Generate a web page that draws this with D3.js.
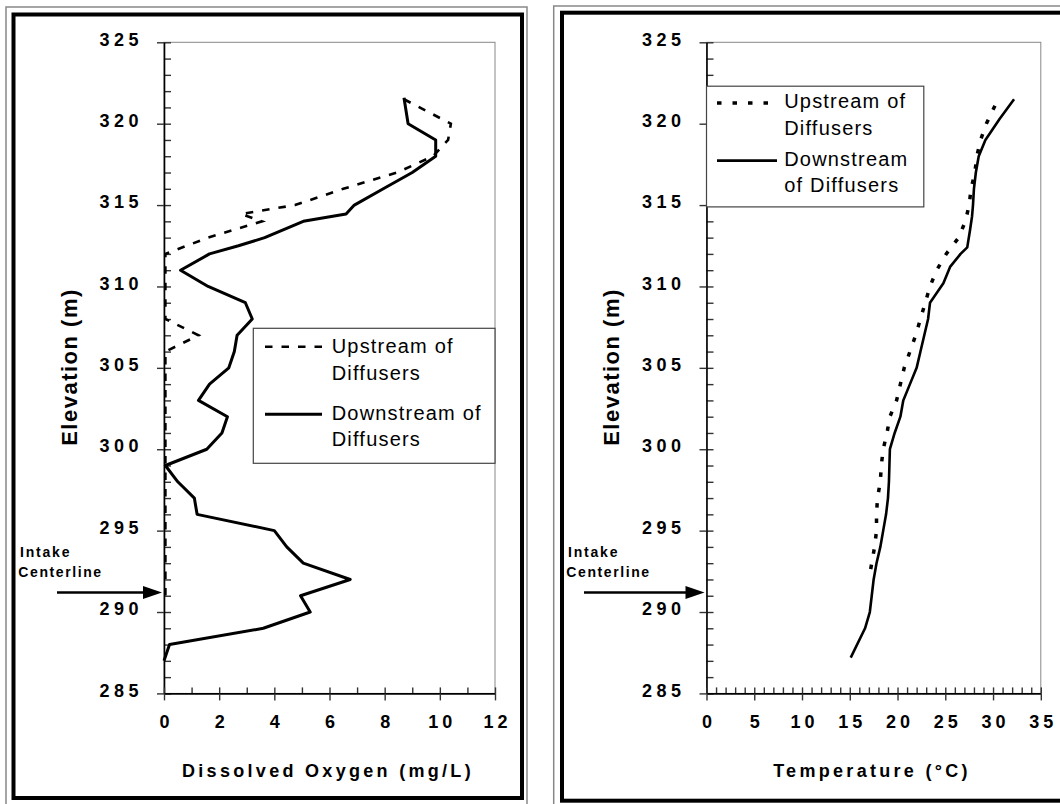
<!DOCTYPE html>
<html>
<head>
<meta charset="utf-8">
<script src="https://cdn.jsdelivr.net/npm/d3@7"></script>
<style>
  body { margin: 0; background: #fff; }
  svg { display: block; font-family: "Liberation Sans", Arial, sans-serif; }
</style>
</head>
<body>
<div id="chart"></div>
<script>
// Elevation ticks shared by both panels
const elevTicks = [285, 290, 295, 300, 305, 310, 315, 320, 325];
const doTicks = [0, 2, 4, 6, 8, 10, 12];
const tempTicks = [0, 5, 10, 15, 20, 25, 30, 35];

// Dissolved oxygen profiles (mg/L)
const doUpElev = [321.5, 320, 319, 318, 317, 316, 315, 314.45, 314, 313, 312, 311, 310, 309, 308, 307, 306,
                  305, 304, 303, 302, 301, 300, 299, 298, 297, 296, 295, 294, 293, 292, 291];
const doUpVal  = [8.7, 10.4, 10.3, 9.75, 8.45, 6.5, 4.75, 2.8, 3.55, 1.6, 0.05, 0.05, 0.05, 0.05, 0.05, 1.25, 0.05,
                  0.05, 0.05, 0.05, 0.05, 0.05, 0.05, 0.05, 0.05, 0.05, 0.05, 0.05, 0.05, 0.05, 0.05, 0.05];
const doDownElev = [321.6, 320, 319, 318, 317, 316, 315, 314.45, 314, 313, 312.5, 312, 311, 310, 309, 308, 307, 306,
                    305, 304, 303, 302, 301, 300, 299, 298, 297, 296, 295, 294, 293, 292, 291, 290, 289, 288, 287];
const doDownVal  = [8.7, 8.85, 9.85, 9.85, 9.0, 7.95, 6.9, 6.6, 5.05, 3.65, 2.7, 1.65, 0.6, 1.6, 2.95, 3.2, 2.65, 2.55,
                    2.35, 1.65, 1.25, 2.3, 2.1, 1.55, 0.05, 0.5, 1.1, 1.2, 4.0, 4.45, 5.05, 6.75, 4.95, 5.3, 3.6, 0.2, 0.0];

// Temperature profiles (deg C)
const tUpElev = [321.1, 320, 319, 318, 317, 316, 315, 314, 313, 312, 311, 310, 309, 308, 307, 306, 305, 304,
                 303, 302, 301, 300, 299, 298, 297, 296, 295, 294, 293, 292];
const tUpVal  = [30.2, 29.3, 28.7, 28.3, 28.1, 27.7, 27.5, 27.1, 26.4, 25.1, 24.1, 23.4, 22.9, 22.4, 21.9, 21.3, 20.7, 20.3,
                 19.9, 19.2, 18.9, 18.5, 18.3, 18.2, 17.9, 17.8, 17.8, 17.6, 17.3, 17.0];
const tDownElev = [321.5, 320.3, 319, 318, 317, 316, 315, 314.3, 313.5, 312.4, 312, 311.2, 310.2, 309, 308, 307, 306,
                   305, 304, 303, 302, 301, 300, 299, 298, 297, 296, 295, 294, 293, 292, 291, 290, 289, 287.2];
const tDownVal  = [32.2, 30.7, 29.2, 28.5, 28.2, 28.0, 27.9, 27.8, 27.6, 27.3, 26.6, 25.5, 24.8, 23.4, 23.2, 22.8, 22.4,
                   22.0, 21.3, 20.6, 20.3, 19.7, 19.2, 19.15, 19.1, 19.0, 18.8, 18.5, 18.2, 17.8, 17.5, 17.3, 17.1, 16.6, 15.1];

const intakeElev = 291.2;

const W = 1060, H = 804;
const svg = d3.select("#chart").append("svg")
    .attr("width", W)
    .attr("height", H);

// outer frames
svg.append("rect").attr("x", 6).attr("y", 7).attr("width", 521).attr("height", 802)
   .attr("fill", "none").attr("stroke", "#888").attr("stroke-width", 1.5);
svg.append("rect").attr("x", 13.5).attr("y", 14.5).attr("width", 508.5).attr("height", 783.5)
   .attr("fill", "none").attr("stroke", "#000").attr("stroke-width", 4);
svg.append("rect").attr("x", 553.7).attr("y", 6).attr("width", 520).attr("height", 802)
   .attr("fill", "none").attr("stroke", "#888").attr("stroke-width", 1.5);
svg.append("rect").attr("x", 562).attr("y", 12.7).attr("width", 520).attr("height", 788)
   .attr("fill", "none").attr("stroke", "#000").attr("stroke-width", 4);

const y = d3.scaleLinear().domain([285, 325]).range([693.4, 42.3]);

function panel(opts) {
    const x = d3.scaleLinear().domain(opts.domain).range(opts.range);
    const g = svg.append("g");
    const x0 = opts.range[0];

    // plot frame (top/right)
    g.append("rect")
     .attr("x", x0).attr("y", y(325))
     .attr("width", opts.range[1] - x0).attr("height", y(285) - y(325))
     .attr("fill", "none").attr("stroke", "#888").attr("stroke-width", 1);

    // minor ticks inside (every 1 m)
    g.append("g")
     .attr("transform", `translate(${x0},0)`)
     .call(d3.axisRight(y).tickValues(d3.range(285, 326, 1)).tickSize(7).tickSizeOuter(0).tickFormat(""))
     .call(a => a.select(".domain").remove());
    // major ticks + labels
    const ya = g.append("g")
     .attr("transform", `translate(${x0},0)`)
     .call(d3.axisLeft(y).tickValues(elevTicks).tickSize(7).tickSizeOuter(0).tickPadding(14));
    ya.select(".domain").attr("stroke", "#000").attr("stroke-width", 1.6);
    ya.selectAll("text")
      .attr("dy", "0.15em")
      .style("font-size", "18px").style("font-weight", "bold").style("letter-spacing", "4.5px")
      .attr("fill", "#000");

    // x minor ticks
    g.append("g")
     .attr("transform", `translate(0,${y(285)})`)
     .call(d3.axisTop(x).tickValues(d3.range(opts.domain[0], opts.domain[1] + 0.01, opts.minor)).tickSize(6).tickSizeOuter(0).tickFormat(""))
     .call(a => a.select(".domain").remove());
    const xa = g.append("g")
     .attr("transform", `translate(0,${y(285)})`)
     .call(d3.axisBottom(x).tickValues(opts.ticks).tickSize(7).tickSizeOuter(0).tickPadding(15));
    xa.select(".domain").attr("stroke", "#000").attr("stroke-width", 1.6);
    xa.selectAll("text")
      .attr("dx", "2px")
      .style("font-size", "18px").style("font-weight", "bold").style("letter-spacing", "4px")
      .attr("fill", "#000");
    g.selectAll(".tick line").attr("stroke", "#333").attr("stroke-width", 1.4);

    // axis titles
    g.append("text")
     .attr("x", opts.titleX).attr("y", 777)
     .attr("text-anchor", "middle")
     .style("font-size", "18px").style("font-weight", "bold").style("letter-spacing", "3.3px")
     .text(opts.title);
    g.append("text")
     .attr("transform", `translate(${x0 - 95},367) rotate(-90)`)
     .attr("text-anchor", "middle")
     .attr("dy", "0.35em")
     .style("font-size", "22px").style("font-weight", "bold").style("letter-spacing", "1.5px")
     .text("Elevation (m)");

    // intake centerline annotation
    const ay = y(intakeElev);
    g.append("text").attr("x", opts.intakeX).attr("y", 557.3)
     .style("font-size", "14px").style("font-weight", "bold").style("letter-spacing", "1.8px")
     .text("Intake");
    g.append("text").attr("x", opts.intakeX - 1.7).attr("y", 576.7)
     .style("font-size", "14px").style("font-weight", "bold").style("letter-spacing", "1.6px")
     .text("Centerline");
    g.append("line")
     .attr("x1", opts.arrowX).attr("x2", x0 - 18).attr("y1", ay).attr("y2", ay)
     .attr("stroke", "#000").attr("stroke-width", 2.5);
    g.append("path")
     .attr("d", `M${x0 - 21},${ay - 6.5}L${x0 - 2},${ay}L${x0 - 21},${ay + 6.5}Z`)
     .attr("fill", "#000");

    // profiles
    const line = d3.line().x(d => x(d[1])).y(d => y(d[0]));
    g.append("path")
     .datum(d3.zip(opts.upElev, opts.upVal))
     .attr("d", line)
     .attr("fill", "none").attr("stroke", "#000")
     .attr("stroke-width", opts.dashWidth).attr("stroke-dasharray", opts.dash);
    g.append("path")
     .datum(d3.zip(opts.downElev, opts.downVal))
     .attr("d", line)
     .attr("fill", "none").attr("stroke", "#000")
     .attr("stroke-width", opts.solidWidth).attr("stroke-linejoin", "round");

    // legend
    const L = opts.legend;
    g.append("rect")
     .attr("x", L.x).attr("y", L.y).attr("width", L.w).attr("height", L.h)
     .attr("fill", "#fff").attr("stroke", "#444").attr("stroke-width", 1.2);
    g.append("line")
     .attr("x1", L.lx1).attr("x2", L.lx2).attr("y1", L.dashY).attr("y2", L.dashY)
     .attr("stroke", "#000").attr("stroke-width", opts.dashWidth).attr("stroke-dasharray", opts.dash);
    g.append("line")
     .attr("x1", L.lx1).attr("x2", L.lx2).attr("y1", L.solidY).attr("y2", L.solidY)
     .attr("stroke", "#000").attr("stroke-width", opts.solidWidth);
    L.lines.forEach((t, i) => {
        g.append("text")
         .attr("x", L.tx).attr("y", L.base[i])
         .style("font-size", "20px").style("letter-spacing", "1.2px")
         .text(t);
    });
}

panel({
    domain: [0, 12], range: [164, 495], ticks: doTicks, minor: 1,
    title: "Dissolved Oxygen (mg/L)", titleX: 328,
    intakeX: 20, arrowX: 57,
    upElev: doUpElev, upVal: doUpVal, downElev: doDownElev, downVal: doDownVal,
    dash: "7.5,9", dashWidth: 2.6, solidWidth: 3,
    legend: {
        x: 253.3, y: 328.3, w: 241.7, h: 135,
        lx1: 265, lx2: 322, dashY: 346.7, solidY: 414.3,
        tx: 331.7, base: [352.7, 380, 420, 446],
        lines: ["Upstream of", "Diffusers", "Downstream of", "Diffusers"]
    }
});

panel({
    domain: [0, 35], range: [706.5, 1040.8], ticks: tempTicks, minor: 1,
    title: "Temperature (\u00b0C)", titleX: 872,
    intakeX: 568, arrowX: 584,
    upElev: tUpElev, upVal: tUpVal, downElev: tDownElev, downVal: tDownVal,
    dash: "4.5,11", dashWidth: 3.5, solidWidth: 2.6,
    legend: {
        x: 706.5, y: 86.2, w: 217.3, h: 120.7,
        lx1: 717, lx2: 777, dashY: 103, solidY: 160.6,
        tx: 784.2, base: [108.2, 135.2, 165.7, 192],
        lines: ["Upstream of", "Diffusers", "Downstream", "of Diffusers"]
    }
});
</script>
</body>
</html>
